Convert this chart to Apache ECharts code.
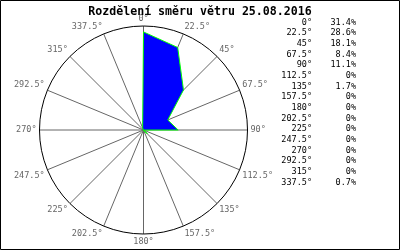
<!DOCTYPE html>
<html><head><meta charset="utf-8">
<script src="https://cdn.jsdelivr.net/npm/echarts@6/dist/echarts.min.js"></script>
<style>html,body{margin:0;padding:0;background:#fff}#c{width:400px;height:250px}</style>
</head><body><div id="c"></div>
<script>
const titleText = 'Rozdělení směru větru 25.08.2016';
const directions = [0, 22.5, 45, 67.5, 90, 112.5, 135, 157.5, 180, 202.5, 225, 247.5, 270, 292.5, 315, 337.5];
const shares = [31.4, 28.6, 18.1, 8.4, 11.1, 0, 1.7, 0, 0, 0, 0, 0, 0, 0, 0, 0.7];

const FONT = '"DejaVu Sans Mono", "Liberation Mono", monospace';
const pts = directions.map((d, i) => [shares[i], d]);
pts.push([shares[0], 360]);

const legendTexts = [];
directions.forEach((d, i) => {
  legendTexts.push({type:'text', right: 400-312, top: 18 + i*10.67,
    style:{text: d + '°', font: '8.5px ' + FONT, fill:'#000', textAlign:'right'}});
  legendTexts.push({type:'text', right: 400-356, top: 18 + i*10.67,
    style:{text: shares[i] + '%', font: '8.5px ' + FONT, fill:'#000', textAlign:'right'}});
});

const chart = echarts.init(document.getElementById('c'), null, {renderer:'canvas'});
chart.setOption({
  animation: false,
  title: {text: titleText, left: 'center', top: 1,
    textStyle:{fontFamily: FONT, fontWeight:'bold', fontSize: 11.6, color:'#000'}},
  polar: {center: [143.5, 130], radius: 104},
  angleAxis: {type:'value', min:0, max:360, interval:22.5, startAngle:90, clockwise:true,
    axisLine:{show:true, lineStyle:{color:'#000', width:1}},
    axisTick:{show:false},
    splitLine:{show:true, lineStyle:{color:'#666', width:1}},
    axisLabel:{margin:3, color:'#666', fontFamily: FONT, fontSize: 8.5,
      formatter: v => v === 360 ? '' : v + '°'}},
  radiusAxis: {type:'value', min:0, max:33.3, show:false,
    axisLine:{show:false}, axisLabel:{show:false}, splitLine:{show:false}, axisTick:{show:false}},
  series: [
    {type:'line', coordinateSystem:'polar', data: pts, symbol:'none', silent:true,
      lineStyle:{color:'#00ff00', width:1}},
    {type:'line', coordinateSystem:'polar', data: pts, symbol:'none', silent:true,
      lineStyle:{color:'#0000ff', width:0},
      areaStyle:{color:'#0000ff', opacity:1}}
  ],
  graphic: [{type:'rect', shape:{x:0.5, y:0.5, width:399, height:249},
    style:{fill:'none', stroke:'#000', lineWidth:1}, z:100}].concat(legendTexts)
});
</script></body></html>
